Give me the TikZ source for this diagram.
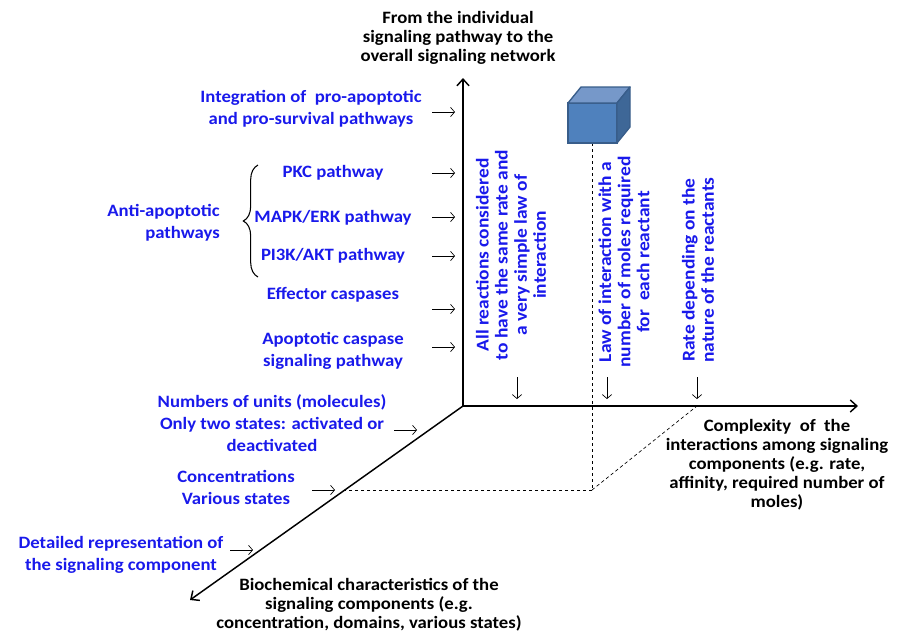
\documentclass[tikz,border=0pt]{standalone}
\usepackage{fontspec}
\setmainfont{Carlito}[FakeStretch=1.08]
\usetikzlibrary{arrows.meta,decorations.pathreplacing}
\definecolor{labelblue}{RGB}{25,25,235}
\definecolor{cubefront}{RGB}{79,129,189}
\definecolor{cubetop}{RGB}{118,152,201}
\definecolor{cubeside}{RGB}{62,103,151}
\definecolor{cubeedge}{RGB}{56,93,138}

\begin{document}
\begin{tikzpicture}[x=0.75pt, y=-0.75pt,
    every node/.style={font=\fontsize{13}{16.5}\selectfont\bfseries, inner sep=0pt},
    bluelabel/.style={text=labelblue, align=center},
    blacklabel/.style={align=center, font=\fontsize{13}{14.3}\selectfont\bfseries},
    turned/.style={bluelabel, rotate=90, font=\fontsize{13.5}{14.3}\selectfont\bfseries},
    axis/.style={line width=1.1pt, -{Straight Barb[length=5pt, width=9pt]}},
    pointer/.style={line width=0.5pt, -{Straight Barb[length=3pt, width=7pt]}},
    guide/.style={line width=0.5pt, dash pattern=on 2.5pt off 2pt}]
    \useasboundingbox (0,0) rectangle (904,640);

    % Axes
    \coordinate (O) at (463,406);
    \coordinate (VTip) at (463,78);
    \coordinate (HTip) at (858,406);
    \coordinate (DTip) at (190,600);
    \draw[axis] (O) -- (VTip);
    \draw[axis] (O) -- (HTip);
    \draw[axis] (O) -- (DTip);

    % Axis titles
    \node[blacklabel] (Title) at (458,38) {From the individual\\signaling pathway to the\\overall signaling network};
    \node[blacklabel] (Complexity) at (777,465) {Complexity\ \ of\ \ the\\interactions among signaling\\components (e.g. rate,\\affinity, required number of\\moles)};
    \node[blacklabel] (Biochem) at (369,605) {Biochemical characteristics of the\\signaling components (e.g.\\concentration, domains, various states)};

    % Vertical axis labels
    \node[bluelabel] (Integ) at (311,109) {Integration of\ \ pro-apoptotic\\and pro-survival pathways};
    \node[bluelabel] (PKC) at (333,173) {PKC pathway};
    \node[bluelabel] (MAPK) at (333,218) {MAPK/ERK pathway};
    \node[bluelabel] (PIThreeK) at (333,256) {PI3K/AKT pathway};
    \node[bluelabel] (Effector) at (333,295) {Effector caspases};
    \node[bluelabel] (Apoptotic) at (333,351) {Apoptotic caspase\\signaling pathway};
    \node[bluelabel, align=right, anchor=east] (AntiApop) at (220,223) {Anti-apoptotic\\pathways};

    % Brace
    \coordinate (BraceBot) at (258,277);
    \coordinate (BraceTop) at (258,165);
    \draw[line width=0.8pt, decorate, decoration={brace, amplitude=11pt}] (BraceBot) -- (BraceTop);

    % Diagonal axis labels
    \node[bluelabel] (Units) at (272,423) {Numbers of units (molecules)\\Only two states: activated or\\deactivated};
    \node[bluelabel] (Conc) at (236,487) {Concentrations\\Various states};
    \node[bluelabel] (Detailed) at (121,555) {Detailed representation of\\the signaling component};

    % Horizontal axis labels
    \node[turned] (AllReact) at (511,255) {All reactions considered\\to have the same rate and\\a very simple law of\\interaction};
    \node[turned] (LawInt) at (624,262) {Law of interaction with a\\number of moles required\\for\ \ each reactant};
    \node[turned] (Rate) at (698,270) {Rate depending on the\\nature of the reactants};

    % Pointer ends
    \coordinate (IntegA) at (432,112);   \coordinate (IntegB) at (455,112);
    \coordinate (PKCA) at (432,173);     \coordinate (PKCB) at (455,173);
    \coordinate (MAPKA) at (432,217);    \coordinate (MAPKB) at (455,217);
    \coordinate (PIThreeKA) at (432,256); \coordinate (PIThreeKB) at (455,256);
    \coordinate (EffectorA) at (432,309); \coordinate (EffectorB) at (455,309);
    \coordinate (ApoptoticA) at (432,347); \coordinate (ApoptoticB) at (455,347);
    \coordinate (UnitsA) at (394,430);   \coordinate (UnitsB) at (417,430);
    \coordinate (ConcA) at (312,490);    \coordinate (ConcB) at (335,490);
    \coordinate (DetailedA) at (230,550); \coordinate (DetailedB) at (253,550);
    \coordinate (AllReactA) at (517,377); \coordinate (AllReactB) at (517,399);
    \coordinate (LawIntA) at (607,377);  \coordinate (LawIntB) at (607,399);
    \coordinate (RateA) at (697,377);    \coordinate (RateB) at (697,399);

    % Pointers
    \draw[pointer] (IntegA) -- (IntegB);
    \draw[pointer] (PKCA) -- (PKCB);
    \draw[pointer] (MAPKA) -- (MAPKB);
    \draw[pointer] (PIThreeKA) -- (PIThreeKB);
    \draw[pointer] (EffectorA) -- (EffectorB);
    \draw[pointer] (ApoptoticA) -- (ApoptoticB);
    \draw[pointer] (UnitsA) -- (UnitsB);
    \draw[pointer] (ConcA) -- (ConcB);
    \draw[pointer] (DetailedA) -- (DetailedB);
    \draw[pointer] (AllReactA) -- (AllReactB);
    \draw[pointer] (LawIntA) -- (LawIntB);
    \draw[pointer] (RateA) -- (RateB);

    % Guide lines
    \coordinate (CubeFoot) at (592,143);
    \coordinate (Corner) at (592,490);
    \coordinate (DiagFoot) at (345,490);
    \coordinate (HorizFoot) at (697,406);
    \draw[guide] (CubeFoot) -- (Corner);
    \draw[guide] (Corner) -- (DiagFoot);
    \draw[guide] (Corner) -- (HorizFoot);

    % Cube
    \draw[cubeedge, fill=cubefront, line width=1pt] (568,103) rectangle (617,143);
    \draw[cubeedge, fill=cubetop, line width=1pt, line join=round] (568,103) -- (581,87) -- (630,87) -- (617,103) -- cycle;
    \draw[cubeedge, fill=cubeside, line width=1pt, line join=round] (617,103) -- (630,87) -- (630,127) -- (617,143) -- cycle;
\end{tikzpicture}
\end{document}
